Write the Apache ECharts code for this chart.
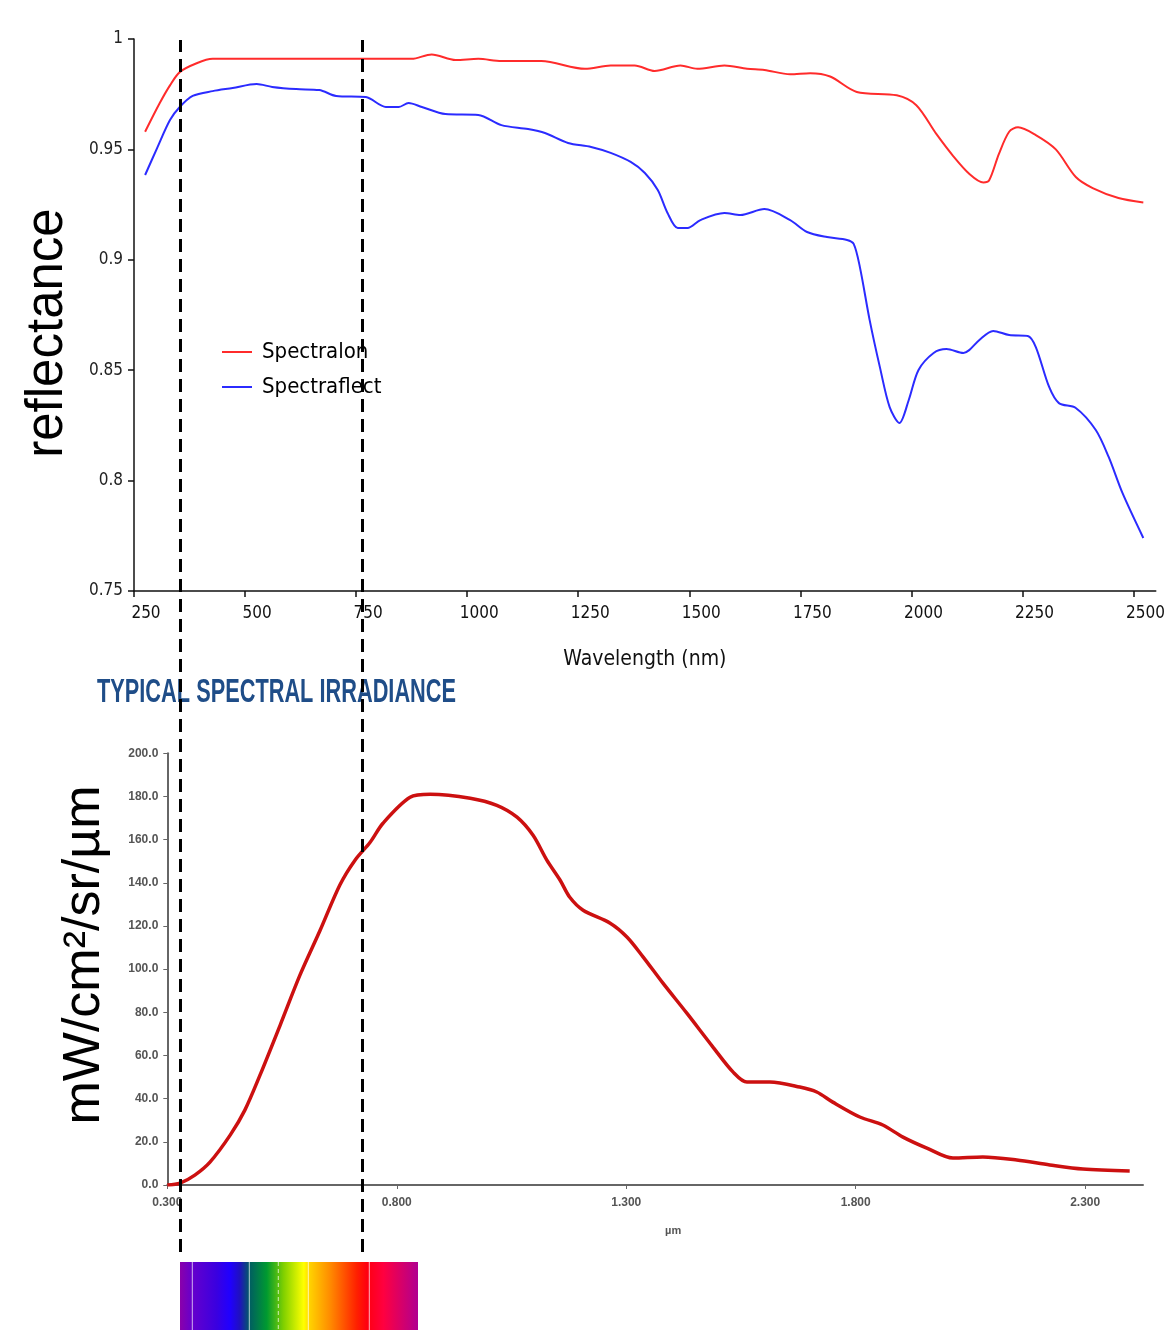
<!DOCTYPE html>
<html>
<head>
<meta charset="utf-8">
<script src="https://cdn.jsdelivr.net/npm/echarts@6/dist/echarts.min.js"></script>
<style>
  html, body { margin: 0; padding: 0; background: #fff; }
  #chart { width: 1168px; height: 1332px; }
</style>
</head>
<body>
<div id="chart"></div>
<script>
// reflectance panel (nm, reflectance)
const spectralonNm = [275, 308, 331, 353, 391, 427, 472, 560, 660, 760, 875, 920, 974, 1025, 1077, 1167, 1265, 1323, 1377, 1422, 1480, 1518, 1579, 1630, 1669, 1727, 1772, 1817, 1877, 1967, 2011, 2056, 2094, 2130, 2162, 2175, 2197, 2220, 2240, 2280, 2325, 2370, 2408, 2466, 2522];
const spectralonR = [0.958, 0.971, 0.979, 0.985, 0.989, 0.991, 0.991, 0.991, 0.991, 0.991, 0.991, 0.993, 0.9905, 0.991, 0.990, 0.990, 0.9865, 0.988, 0.988, 0.9855, 0.988, 0.9865, 0.988, 0.9865, 0.986, 0.984, 0.9845, 0.983, 0.976, 0.9745, 0.970, 0.957, 0.947, 0.939, 0.935, 0.936, 0.948, 0.958, 0.960, 0.9565, 0.950, 0.9375, 0.9325, 0.928, 0.926];
const spectraflectNm = [275, 302, 331, 353, 382, 427, 472, 526, 561, 615, 667, 705, 772, 817, 846, 868, 898, 951, 1025, 1077, 1137, 1175, 1227, 1279, 1323, 1368, 1400, 1429, 1451, 1474, 1496, 1525, 1579, 1615, 1669, 1727, 1765, 1810, 1855, 1870, 1884, 1906, 1929, 1951, 1973, 1994, 2016, 2050, 2079, 2117, 2130, 2153, 2184, 2220, 2262, 2280, 2310, 2332, 2370, 2415, 2444, 2475, 2522];
const spectraflectR = [0.9384, 0.9506, 0.9633, 0.9692, 0.9742, 0.9764, 0.9778, 0.9796, 0.9783, 0.9773, 0.9769, 0.9742, 0.9737, 0.9692, 0.9692, 0.971, 0.9692, 0.966, 0.9656, 0.961, 0.9592, 0.9574, 0.9529, 0.9511, 0.9484, 0.9443, 0.9393, 0.9316, 0.9212, 0.9144, 0.9144, 0.918, 0.9212, 0.9203, 0.923, 0.918, 0.9126, 0.9103, 0.909, 0.9072, 0.8967, 0.8727, 0.8514, 0.8333, 0.8261, 0.8365, 0.8501, 0.8578, 0.8596, 0.8578, 0.8591, 0.8637, 0.8678, 0.8659, 0.8655, 0.8605, 0.8424, 0.8351, 0.8329, 0.8229, 0.8107, 0.7944, 0.774];
const nmTicks = [250, 500, 750, 1000, 1250, 1500, 1750, 2000, 2250, 2500];

// irradiance panel (um, mW/cm2/sr/um)
const irrUm = [0.300, 0.328, 0.360, 0.393, 0.437, 0.469, 0.502, 0.546, 0.589, 0.633, 0.676, 0.709, 0.742, 0.770, 0.829, 0.873, 0.960, 1.018, 1.062, 1.097, 1.127, 1.156, 1.177, 1.206, 1.265, 1.302, 1.337, 1.380, 1.432, 1.489, 1.533, 1.563, 1.613, 1.678, 1.715, 1.750, 1.809, 1.859, 1.903, 1.955, 2.012, 2.077, 2.151, 2.223, 2.295, 2.397];
const irrValue = [0, 0.9, 4.6, 10.6, 23.1, 34.7, 50.9, 74.1, 97.2, 118, 139, 150.5, 158.8, 167.6, 179.6, 181, 179.2, 175.9, 170.4, 162, 150.5, 141.2, 133.3, 127.3, 121.3, 114.8, 105.6, 93.5, 79.6, 63.9, 52.3, 47.7, 47.7, 45.4, 43.1, 38.4, 31.5, 27.8, 22.2, 17.1, 12.5, 13, 11.6, 9.3, 7.4, 6.5];
const umTicks = [0.3, 0.8, 1.3, 1.8, 2.3];

// visible band edges (nm) drawn as dashed lines over both panels
const bandEdges = [353, 761];

const zip = (xs, ys) => xs.map((x, i) => [x, ys[i]]);

const condensed = '"DejaVu Sans Condensed", "DejaVu Sans", Verdana, sans-serif';
const arial = '"Liberation Sans", Arial, sans-serif';

var myChart = echarts.init(document.getElementById('chart'));

var option = {
	animation: false,
	grid: [
		{ left: 134, top: 39, width: 1026, height: 552 },
		{ left: 167.3, top: 753.3, width: 975.7, height: 431.7 },
		{ left: 134, top: 40, width: 1026, height: 1212 }
	],
	legend: {
		data: ['Spectralon', 'Spectraflect'],
		orient: 'vertical',
		left: 222,
		top: 341,
		padding: 0,
		itemGap: 13,
		itemWidth: 30,
		itemHeight: 2,
		icon: 'rect',
		textStyle: { fontSize: 22, color: '#000', fontFamily: condensed, padding: [0, 0, 0, 5] }
	},
	xAxis: [
		{
			gridIndex: 0, type: 'value', min: 250, max: 2550,
			splitLine: { show: false },
			axisLine: { lineStyle: { color: '#111', width: 1.5 } },
			axisTick: { customValues: nmTicks, length: 6, lineStyle: { color: '#111', width: 1.5 } },
			axisLabel: { customValues: nmTicks, formatter: v => String(v), fontSize: 17, color: '#111', fontFamily: condensed, margin: 14, padding: [0, 0, 0, 24] },
			name: 'Wavelength (nm)', nameLocation: 'middle', nameGap: 58,
			nameTextStyle: { fontSize: 21, color: '#111', fontFamily: condensed }
		},
		{
			gridIndex: 1, type: 'value', min: 0.3, max: 2.426,
			splitLine: { show: false },
			axisLine: { lineStyle: { color: '#666', width: 2 } },
			axisTick: { customValues: umTicks, length: 4, lineStyle: { color: '#666' } },
			axisLabel: { customValues: umTicks, formatter: v => v.toFixed(3), fontSize: 12, fontWeight: 'bold', color: '#555', fontFamily: arial, margin: 12 },
			name: 'µm', nameLocation: 'middle', nameGap: 40,
			nameTextStyle: { fontSize: 11, fontWeight: 'bold', color: '#555', fontFamily: arial, padding: [0, 0, 0, 36] }
		},
		{ gridIndex: 2, type: 'value', min: 250, max: 2550, show: false }
	],
	yAxis: [
		{
			gridIndex: 0, type: 'value', min: 0.75, max: 1, interval: 0.05,
			splitLine: { show: false },
			axisLine: { show: true, lineStyle: { color: '#111', width: 1.5 } },
			axisTick: { show: true, length: 6, lineStyle: { color: '#111', width: 1.5 } },
			axisLabel: { formatter: v => String(+v.toFixed(2)), fontSize: 17, color: '#222', fontFamily: condensed, margin: 11 }
		},
		{
			gridIndex: 1, type: 'value', min: 0, max: 200, interval: 20,
			splitLine: { show: false },
			axisLine: { show: true, lineStyle: { color: '#666', width: 2 } },
			axisTick: { show: true, length: 4, lineStyle: { color: '#666' } },
			axisLabel: { formatter: v => v.toFixed(1), fontSize: 12, fontWeight: 'bold', color: '#555', fontFamily: arial, margin: 9 }
		},
		{ gridIndex: 2, type: 'value', min: 0, max: 1, show: false }
	],
	series: [
		{
			name: 'Spectralon', type: 'line', xAxisIndex: 0, yAxisIndex: 0,
			data: zip(spectralonNm, spectralonR),
			smooth: 0.3, showSymbol: false,
			itemStyle: { color: '#ff2b2b' },
			lineStyle: { color: '#ff2b2b', width: 2 }
		},
		{
			name: 'Spectraflect', type: 'line', xAxisIndex: 0, yAxisIndex: 0,
			data: zip(spectraflectNm, spectraflectR),
			smooth: 0.3, showSymbol: false,
			itemStyle: { color: '#2b2bff' },
			lineStyle: { color: '#2b2bff', width: 2 }
		},
		{
			name: 'Irradiance', type: 'line', xAxisIndex: 1, yAxisIndex: 1,
			data: zip(irrUm, irrValue),
			smooth: 0.3, showSymbol: false,
			itemStyle: { color: '#c81010' },
			lineStyle: { color: '#cc1010', width: 3.5 }
		},
		{
			name: 'band', type: 'line', xAxisIndex: 2, yAxisIndex: 2,
			data: [],
			z: 10,
			markLine: {
				silent: true,
				symbol: ['none', 'none'],
				label: { show: false },
				lineStyle: { color: '#000', width: 3, type: [13, 7] },
				data: bandEdges.map(v => ({ xAxis: v }))
			}
		}
	],
	graphic: [
		{
			type: 'text', x: 97, y: 693, scaleX: 0.64, silent: true,
			style: {
				text: 'TYPICAL SPECTRAL IRRADIANCE',
				fill: '#1f4d88',
				font: 'bold 34px "Liberation Sans Narrow", "Liberation Sans", Arial, sans-serif',
				verticalAlign: 'middle'
			}
		},
		{
			type: 'text', x: 48, y: 333, rotation: Math.PI / 2, silent: true,
			style: { text: 'reflectance', fill: '#000', font: '51px ' + arial, align: 'center', verticalAlign: 'middle' }
		},
		{
			type: 'text', x: 85, y: 955, rotation: Math.PI / 2, silent: true,
			style: { text: 'mW/cm²/sr/µm', fill: '#000', font: '52px ' + arial, align: 'center', verticalAlign: 'middle' }
		},
		{
			type: 'rect', silent: true,
			shape: { x: 180, y: 1262, width: 238, height: 68 },
			style: {
				fill: new echarts.graphic.LinearGradient(0, 0, 1, 0, [
					{ offset: 0, color: '#8a00aa' },
					{ offset: 0.05, color: '#6600cc' },
					{ offset: 0.154, color: '#3a00e0' },
					{ offset: 0.21, color: '#2000ff' },
					{ offset: 0.25, color: '#2010c0' },
					{ offset: 0.295, color: '#006060' },
					{ offset: 0.365, color: '#009a30' },
					{ offset: 0.435, color: '#80d000' },
					{ offset: 0.52, color: '#ffff00' },
					{ offset: 0.547, color: '#ffd000' },
					{ offset: 0.63, color: '#ff8c00' },
					{ offset: 0.743, color: '#ff2000' },
					{ offset: 0.785, color: '#ff0010' },
					{ offset: 0.855, color: '#ff0040' },
					{ offset: 1, color: '#b00090' }
				])
			}
		},
		{ type: 'line', silent: true, shape: { x1: 192.3, y1: 1262, x2: 192.3, y2: 1330 }, style: { stroke: 'rgba(255,255,255,0.7)', lineWidth: 1 } },
		{ type: 'line', silent: true, shape: { x1: 249.3, y1: 1262, x2: 249.3, y2: 1330 }, style: { stroke: 'rgba(255,255,255,0.7)', lineWidth: 1 } },
		{ type: 'line', silent: true, shape: { x1: 278.3, y1: 1262, x2: 278.3, y2: 1330 }, style: { stroke: 'rgba(255,255,255,0.7)', lineWidth: 1, lineDash: [4, 3] } },
		{ type: 'line', silent: true, shape: { x1: 308.3, y1: 1262, x2: 308.3, y2: 1330 }, style: { stroke: 'rgba(255,255,255,0.7)', lineWidth: 1 } },
		{ type: 'line', silent: true, shape: { x1: 369.3, y1: 1262, x2: 369.3, y2: 1330 }, style: { stroke: 'rgba(255,255,255,0.7)', lineWidth: 1 } }
	]
};

myChart.setOption(option);
</script>
</body>
</html>
